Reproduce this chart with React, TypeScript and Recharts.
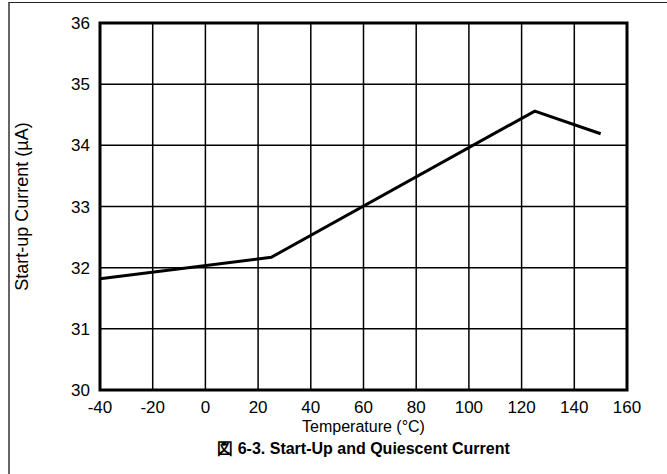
import React from "react";
import {
  CartesianGrid,
  Line,
  LineChart,
  ReferenceArea,
  XAxis,
  YAxis,
} from "recharts";

const temperatures = [-40, 25, 125, 150];
const startupCurrent = [31.82, 32.17, 34.56, 34.19];
const xTicks = [-40, -20, 0, 20, 40, 60, 80, 100, 120, 140, 160];
const yTicks = [30, 31, 32, 33, 34, 35, 36];

const data = temperatures.map((t, i) => ({ temp: t, current: startupCurrent[i] }));

const font = "'Liberation Sans', Arial, Helvetica, sans-serif";

export default function App() {
  return (
    <div
      style={{
        position: "fixed",
        left: 0,
        top: 0,
        width: 667,
        height: 474,
        background: "#fff",
        fontFamily: font,
        overflow: "hidden",
      }}
    >
      {/* page frame: only top and left edges visible */}
      <div
        style={{
          position: "absolute",
          left: 8,
          top: 2,
          width: 667,
          height: 480,
          borderTop: "1px solid #222",
          borderLeft: "2px solid #666",
        }}
      />
      <div style={{ position: "absolute", left: 0, top: 0 }}>
        <LineChart
          width={667}
          height={474}
          data={data}
          margin={{ top: 23, right: 40, bottom: 34, left: 10 }}
        >
          <CartesianGrid
            stroke="#000"
            strokeWidth={1.5}
            horizontalValues={yTicks}
            verticalValues={xTicks}
          />
          <XAxis
            dataKey="temp"
            type="number"
            domain={[-40, 160]}
            ticks={xTicks}
            interval={0}
            height={50}
            axisLine={false}
            tickLine={false}
            tickMargin={5}
            tick={{ fill: "#000", fontSize: 17, fontFamily: font }}
            label={{
              value: "Temperature (°C)",
              position: "insideBottom",
              offset: 8,
              fill: "#000",
              fontSize: 16,
              fontFamily: font,
            }}
          />
          <YAxis
            type="number"
            domain={[30, 36]}
            ticks={yTicks}
            interval={0}
            width={90}
            axisLine={false}
            tickLine={false}
            tickMargin={4}
            tick={{ fill: "#000", fontSize: 17, fontFamily: font }}
            label={{
              value: "Start-up Current (µA)",
              angle: -90,
              position: "insideLeft",
              offset: 12,
              fill: "#000",
              fontSize: 18,
              fontFamily: font,
              style: { textAnchor: "middle" },
            }}
          />
          <ReferenceArea
            x1={-40}
            x2={160}
            y1={30}
            y2={36}
            fill="none"
            stroke="#000"
            strokeWidth={3}
            ifOverflow="visible"
          />
          <Line
            type="linear"
            dataKey="current"
            stroke="#000"
            strokeWidth={3}
            dot={false}
            isAnimationActive={false}
          />
        </LineChart>
      </div>
      <div
        style={{
          position: "absolute",
          left: 0,
          width: 727,
          top: 440,
          textAlign: "center",
          fontWeight: "bold",
          fontSize: 16,
          color: "#000",
          lineHeight: "18px",
        }}
      >
        図 6-3. Start-Up and Quiescent Current
      </div>
    </div>
  );
}
